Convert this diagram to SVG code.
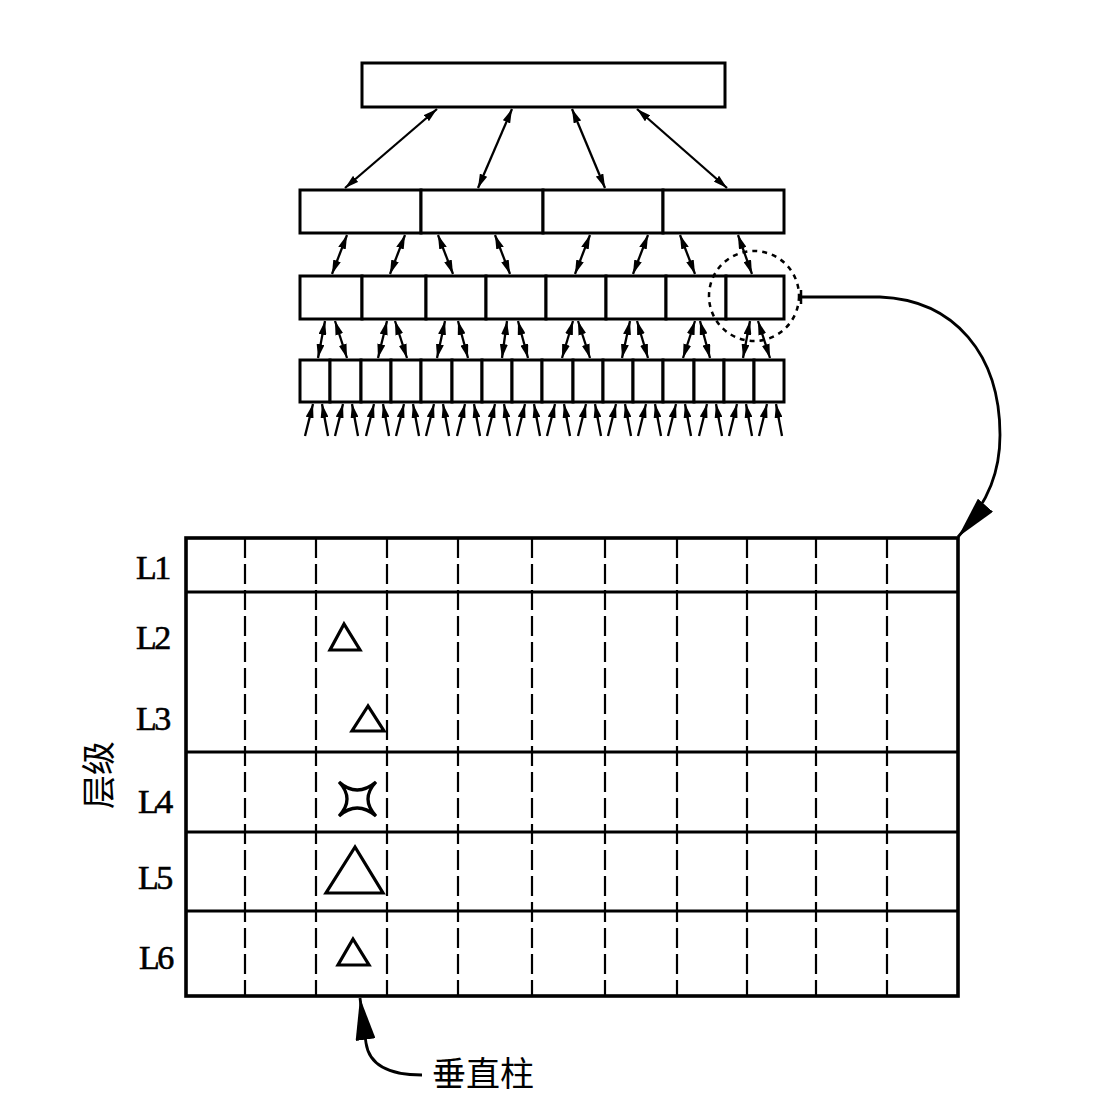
<svg xmlns="http://www.w3.org/2000/svg" width="1096" height="1108" viewBox="0 0 1096 1108">
<style>
.box{fill:#fff;stroke:#000;stroke-width:3}
.ln{fill:none;stroke:#000;stroke-width:2.3}
.dbl{marker-start:url(#ah);marker-end:url(#ah)}
.up{marker-end:url(#ah)}
.grid{fill:none;stroke:#000;stroke-width:2.8}
.dash{fill:none;stroke:#000;stroke-width:2.2;stroke-dasharray:20 6}
.shape{fill:none;stroke:#000;stroke-width:3.2;stroke-linejoin:miter}
.lbl{font-family:"Liberation Serif","Times New Roman",serif;font-size:34px;letter-spacing:-2.5px;fill:#000;stroke:#000;stroke-width:0.6}
.cjk{font-family:"Noto Sans CJK SC","Noto Sans CJK TC",sans-serif;font-size:34px;fill:#000}
</style>
<defs>
<marker id="ah" markerUnits="userSpaceOnUse" markerWidth="14" markerHeight="8" viewBox="0 0 14 8" refX="14" refY="4" orient="auto-start-reverse"><path d="M0,0 L14,4 L0,8 z" fill="#000"/></marker>
<marker id="big" markerUnits="userSpaceOnUse" markerWidth="42" markerHeight="20" viewBox="0 0 42 20" refX="42" refY="10" orient="auto"><path d="M0,0 L42,10 L0,20 z" fill="#000"/></marker>
</defs>
<rect width="1096" height="1108" fill="#fff"/>

<g id="level1"><rect id="n-top" class="box" x="362" y="63" width="363" height="44"/></g>

<g id="level2">
<rect id="n2-1" class="box" x="300" y="190" width="121" height="43"/>
<rect id="n2-2" class="box" x="421" y="190" width="122" height="43"/>
<rect id="n2-3" class="box" x="543" y="190" width="120" height="43"/>
<rect id="n2-4" class="box" x="663" y="190" width="121" height="43"/>
</g>

<g id="level3">
<rect id="n3-1" class="box" x="300" y="276" width="62" height="43"/>
<rect id="n3-2" class="box" x="362" y="276" width="64" height="43"/>
<rect id="n3-3" class="box" x="426" y="276" width="60" height="43"/>
<rect id="n3-4" class="box" x="486" y="276" width="60" height="43"/>
<rect id="n3-5" class="box" x="546" y="276" width="60" height="43"/>
<rect id="n3-6" class="box" x="606" y="276" width="60" height="43"/>
<rect id="n3-7" class="box" x="666" y="276" width="60" height="43"/>
<rect id="n3-8" class="box" x="726" y="276" width="58" height="43"/>
</g>

<g id="level4">
<rect id="n4-1" class="box" x="300" y="360" width="30" height="42"/>
<rect id="n4-2" class="box" x="330" y="360" width="31" height="42"/>
<rect id="n4-3" class="box" x="361" y="360" width="30" height="42"/>
<rect id="n4-4" class="box" x="391" y="360" width="30" height="42"/>
<rect id="n4-5" class="box" x="421" y="360" width="31" height="42"/>
<rect id="n4-6" class="box" x="452" y="360" width="30" height="42"/>
<rect id="n4-7" class="box" x="482" y="360" width="30" height="42"/>
<rect id="n4-8" class="box" x="512" y="360" width="30" height="42"/>
<rect id="n4-9" class="box" x="542" y="360" width="31" height="42"/>
<rect id="n4-10" class="box" x="573" y="360" width="30" height="42"/>
<rect id="n4-11" class="box" x="603" y="360" width="30" height="42"/>
<rect id="n4-12" class="box" x="633" y="360" width="30" height="42"/>
<rect id="n4-13" class="box" x="663" y="360" width="31" height="42"/>
<rect id="n4-14" class="box" x="694" y="360" width="30" height="42"/>
<rect id="n4-15" class="box" x="724" y="360" width="30" height="42"/>
<rect id="n4-16" class="box" x="754" y="360" width="30" height="42"/>
</g>

<g id="focus-circle"><circle cx="754" cy="296" r="45" fill="none" stroke="#000" stroke-width="2.5" stroke-dasharray="5 5"/></g>

<g id="connectors">
<line class="ln dbl" x1="437" y1="109" x2="345" y2="188"/>
<line class="ln dbl" x1="512" y1="109" x2="478" y2="188"/>
<line class="ln dbl" x1="572" y1="109" x2="605" y2="188"/>
<line class="ln dbl" x1="637" y1="109" x2="727" y2="188"/>
<line class="ln dbl" x1="347" y1="235" x2="332" y2="274"/>
<line class="ln dbl" x1="405" y1="235" x2="390" y2="274"/>
<line class="ln dbl" x1="438" y1="235" x2="453" y2="274"/>
<line class="ln dbl" x1="495" y1="235" x2="510" y2="274"/>
<line class="ln dbl" x1="590" y1="235" x2="575" y2="274"/>
<line class="ln dbl" x1="648" y1="235" x2="633" y2="274"/>
<line class="ln dbl" x1="680" y1="235" x2="695" y2="274"/>
<line class="ln dbl" x1="738" y1="235" x2="752" y2="274"/>
<line class="ln dbl" x1="325" y1="321" x2="318" y2="358"/>
<line class="ln dbl" x1="335" y1="321" x2="347" y2="358"/>
<line class="ln dbl" x1="387" y1="321" x2="378" y2="358"/>
<line class="ln dbl" x1="395" y1="321" x2="407" y2="358"/>
<line class="ln dbl" x1="445" y1="321" x2="437" y2="358"/>
<line class="ln dbl" x1="458" y1="321" x2="468" y2="358"/>
<line class="ln dbl" x1="507" y1="321" x2="502" y2="358"/>
<line class="ln dbl" x1="518" y1="321" x2="528" y2="358"/>
<line class="ln dbl" x1="573" y1="321" x2="562" y2="358"/>
<line class="ln dbl" x1="578" y1="321" x2="590" y2="358"/>
<line class="ln dbl" x1="630" y1="321" x2="622" y2="358"/>
<line class="ln dbl" x1="637" y1="321" x2="648" y2="358"/>
<line class="ln dbl" x1="695" y1="321" x2="683" y2="358"/>
<line class="ln dbl" x1="700" y1="321" x2="710" y2="358"/>
<line class="ln dbl" x1="750" y1="321" x2="743" y2="358"/>
<line class="ln dbl" x1="758" y1="321" x2="770" y2="358"/>
<line class="ln up" x1="305" y1="436" x2="313" y2="404"/><line class="ln up" x1="328" y1="436" x2="322" y2="404"/>
<line class="ln up" x1="335" y1="436" x2="343" y2="404"/><line class="ln up" x1="358" y1="436" x2="352" y2="404"/>
<line class="ln up" x1="366" y1="436" x2="374" y2="404"/><line class="ln up" x1="389" y1="436" x2="383" y2="404"/>
<line class="ln up" x1="396" y1="436" x2="404" y2="404"/><line class="ln up" x1="419" y1="436" x2="413" y2="404"/>
<line class="ln up" x1="426" y1="436" x2="434" y2="404"/><line class="ln up" x1="449" y1="436" x2="443" y2="404"/>
<line class="ln up" x1="457" y1="436" x2="465" y2="404"/><line class="ln up" x1="480" y1="436" x2="474" y2="404"/>
<line class="ln up" x1="487" y1="436" x2="495" y2="404"/><line class="ln up" x1="510" y1="436" x2="504" y2="404"/>
<line class="ln up" x1="517" y1="436" x2="525" y2="404"/><line class="ln up" x1="540" y1="436" x2="534" y2="404"/>
<line class="ln up" x1="547" y1="436" x2="555" y2="404"/><line class="ln up" x1="570" y1="436" x2="564" y2="404"/>
<line class="ln up" x1="578" y1="436" x2="586" y2="404"/><line class="ln up" x1="601" y1="436" x2="595" y2="404"/>
<line class="ln up" x1="608" y1="436" x2="616" y2="404"/><line class="ln up" x1="631" y1="436" x2="625" y2="404"/>
<line class="ln up" x1="638" y1="436" x2="646" y2="404"/><line class="ln up" x1="661" y1="436" x2="655" y2="404"/>
<line class="ln up" x1="668" y1="436" x2="676" y2="404"/><line class="ln up" x1="691" y1="436" x2="685" y2="404"/>
<line class="ln up" x1="699" y1="436" x2="707" y2="404"/><line class="ln up" x1="722" y1="436" x2="716" y2="404"/>
<line class="ln up" x1="729" y1="436" x2="737" y2="404"/><line class="ln up" x1="752" y1="436" x2="746" y2="404"/>
<line class="ln up" x1="759" y1="436" x2="767" y2="404"/><line class="ln up" x1="782" y1="436" x2="776" y2="404"/>
<line x1="801" y1="290" x2="801" y2="304" stroke="#000" stroke-width="2.5"/>
<path d="M801,297 L880,297 C955,300 1000,355 1000,435 C1000,470 990,500 958,537" fill="none" stroke="#000" stroke-width="2.8" marker-end="url(#big)"/>
<path d="M422,1075 C388,1075 369,1064 366,1043 L360,998" fill="none" stroke="#000" stroke-width="2.8" marker-end="url(#big)"/>
</g>

<g id="grid">
<line class="dash" x1="245" y1="538" x2="245" y2="996"/>
<line class="dash" x1="316" y1="538" x2="316" y2="996"/>
<line class="dash" x1="387" y1="538" x2="387" y2="996"/>
<line class="dash" x1="458" y1="538" x2="458" y2="996"/>
<line class="dash" x1="532" y1="538" x2="532" y2="996"/>
<line class="dash" x1="605" y1="538" x2="605" y2="996"/>
<line class="dash" x1="677" y1="538" x2="677" y2="996"/>
<line class="dash" x1="747" y1="538" x2="747" y2="996"/>
<line class="dash" x1="816" y1="538" x2="816" y2="996"/>
<line class="dash" x1="887" y1="538" x2="887" y2="996"/>
<line class="grid" x1="186" y1="592" x2="958" y2="592"/>
<line class="grid" x1="186" y1="752" x2="958" y2="752"/>
<line class="grid" x1="186" y1="832" x2="958" y2="832"/>
<line class="grid" x1="186" y1="911" x2="958" y2="911"/>
<rect x="186" y="538" width="772" height="458" fill="none" stroke="#000" stroke-width="3.6"/>
</g>

<g id="labels">
<text class="lbl" x="136" y="579">L1</text>
<text class="lbl" x="136" y="649">L2</text>
<text class="lbl" x="136" y="730">L3</text>
<text class="lbl" x="138" y="813">L4</text>
<text class="lbl" x="138" y="889">L5</text>
<text class="lbl" x="139" y="969">L6</text>
<text class="cjk" x="96" y="775" text-anchor="middle" dominant-baseline="central" transform="rotate(-90 96 775)">层级</text>
<text class="cjk" x="432" y="1086">垂直柱</text>
</g>

<g id="markers-in-column">
<polygon id="s-l2" class="shape" points="344,624 330,650 360,650"/>
<polygon id="s-l3" class="shape" points="368,706 352,731 384,731"/>
<path id="s-l4" class="shape" d="M339,782 Q357,798 376,782 Q360,799 376,816 Q357,800 339,816 Q355,799 339,782 Z"/>
<polygon id="s-l5" class="shape" points="355,847 326,893 383,893"/>
<polygon id="s-l6" class="shape" points="353,939 338,965 369,965"/>
</g>
</svg>
